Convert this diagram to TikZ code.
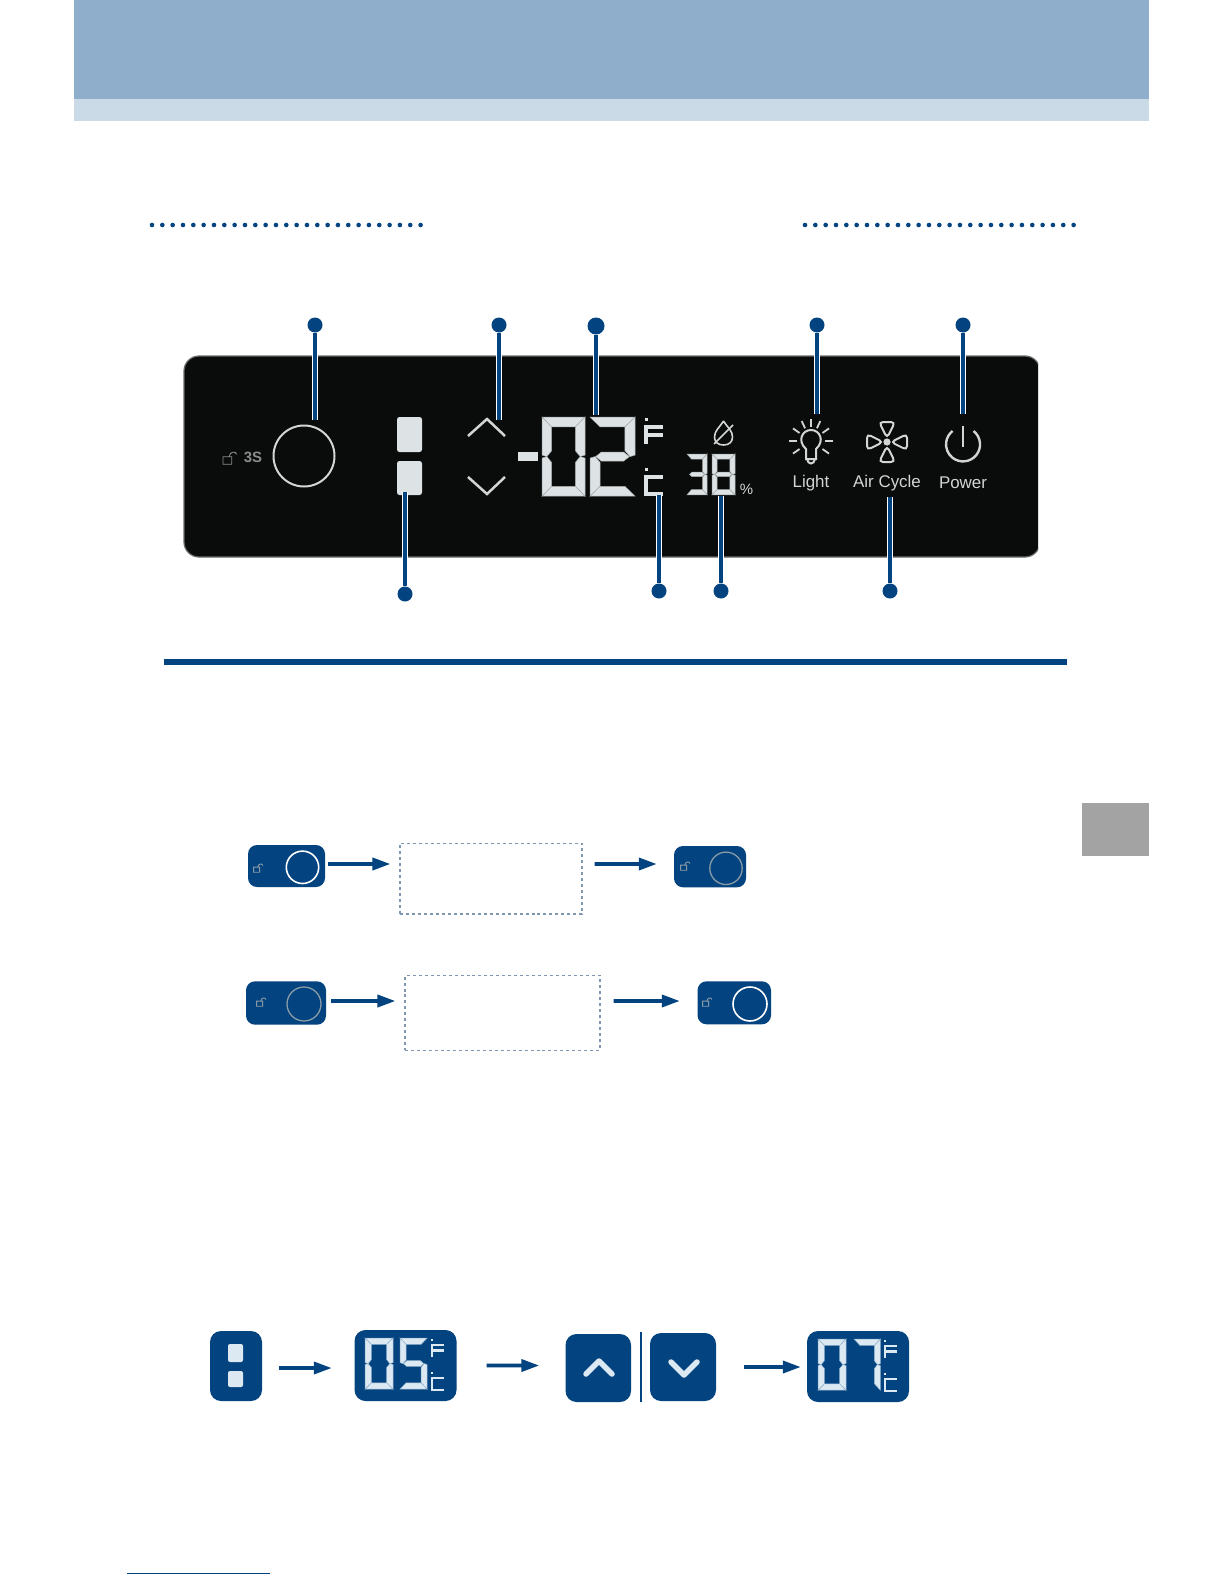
\documentclass[tikz,border=0pt]{standalone}
\usepackage{fontspec}
\setmainfont{Liberation Sans}
\usetikzlibrary{arrows.meta,positioning,calc}
\definecolor{PanelBlue}{HTML}{03437F}
\definecolor{HeaderBlue}{HTML}{8FAECB}
\definecolor{HeaderLight}{HTML}{CBDAE7}
\definecolor{TabGrey}{HTML}{A3A3A3}
\definecolor{PanelBlack}{HTML}{0A0C0B}
\definecolor{PanelEdge}{HTML}{6A6C6B}
\definecolor{SegLight}{HTML}{DDE3E4}
\definecolor{SegEdge}{HTML}{A4A9A9}
\definecolor{SegBlue}{HTML}{DCE9F2}
\definecolor{SegBlueEdge}{HTML}{8FB0CC}
\definecolor{IconGrey}{HTML}{D2D5D4}
\definecolor{LabelGrey}{HTML}{8C8C8C}
\definecolor{DimGrey}{HTML}{8A9BA8}
\definecolor{BoxDash}{HTML}{7F97B0}
\tikzset{
  calloutdot/.style={circle,fill=PanelBlue,inner sep=0pt,minimum size=15bp},
  calloutline/.style={preaction={draw=white,line width=5.6bp},draw=PanelBlue,line width=3.2bp},
  lockbtn/.style={rounded corners=9bp,fill=PanelBlue,inner sep=0pt},
  dispbtn/.style={rounded corners=11bp,fill=PanelBlue,inner sep=0pt},
  dashbox/.style={draw=BoxDash,dashed,line width=1.1bp,inner sep=0pt},
  flowarrow/.style={-{Triangle[length=18bp,width=12bp]},PanelBlue,line width=3.6bp},
  dotrule/.style={PanelBlue,line width=4.6bp,line cap=round,dash pattern=on 0pt off 10.33bp},
  paneltext/.style={text=IconGrey,font=\fontsize{17}{20}\selectfont,inner sep=0pt},
  lockicon/.pic={\draw[line width=.9bp] (-4,-1) rectangle (3,5) (1,-1) .. controls (1,-5) and (6,-6) .. (7,-3);}
}
\def\sega{\filldraw (0,0)--(40,0)--(31,10)--(9,10)--cycle;}
\def\segb{\filldraw (40,0)--(40,38.5)--(35.5,40)--(31,34)--(31,10)--cycle;}
\def\segc{\filldraw (40,80)--(40,41.5)--(35.5,40)--(31,46)--(31,70)--cycle;}
\def\segd{\filldraw (0,80)--(40,80)--(31,70)--(9,70)--cycle;}
\def\sege{\filldraw (0,80)--(0,41.5)--(4.5,40)--(9,46)--(9,70)--cycle;}
\def\segf{\filldraw (0,0)--(0,38.5)--(4.5,40)--(9,34)--(9,10)--cycle;}
\def\segg{\filldraw (5,40)--(10,35.5)--(30,35.5)--(35,40)--(30,44.5)--(10,44.5)--cycle;}
\newcommand\segdigit[7]{\begin{scope}[shift={(#1,#2)},xscale=#3,yscale=#4,fill=#6,draw=#7,line width=.5bp]
  \foreach \s in {#5}{\csname seg\s\endcsname}
\end{scope}}
\newcommand\unitF[5]{\begin{scope}[shift={(#1,#2)},scale=#3,line width=#4,color=#5]
  \draw (17,0)--(0,0)--(0,17) (0,8)--(17,8);
  \fill (-1.5,-9) rectangle (1.5,-6);
\end{scope}}
\newcommand\unitC[5]{\begin{scope}[shift={(#1,#2)},scale=#3,line width=#4,color=#5]
  \draw (17,0)--(0,0)--(0,17)--(17,17);
  \fill (-1.5,-9) rectangle (1.5,-6);
\end{scope}}
\begin{document}
\begin{tikzpicture}[x=1bp,y=-1bp]
  \useasboundingbox (0,0) rectangle (1224,1584);
  \fill[white] (0,0) rectangle (1224,1584);
  \fill[HeaderBlue] (74,0) rectangle (1149,99);
  \fill[HeaderLight] (74,99) rectangle (1149,121);
  \fill[TabGrey] (1082,803) rectangle (1149,856);
  \draw[dotrule] (152,225)--(421,225);
  \draw[dotrule] (805,225)--(1074,225);
  \fill[PanelBlue] (164,659) rectangle (1067,665);
  \draw[PanelBlue,line width=1bp] (127,1573)--(270,1573);

  % control panel
  \begin{scope}
    \clip (170,340) rectangle (1038,570);
    \draw[fill=PanelBlack,draw=PanelEdge,line width=1.2bp,rounded corners=15bp] (184,356) rectangle (1040,557);
  \end{scope}
  \pic[color=LabelGrey,scale=1.25] at (228,458) {lockicon};
  \node[text=LabelGrey,font=\fontsize{15}{18}\bfseries\selectfont,inner sep=0pt] (threes) at (253,457) {3S};
  \draw[IconGrey,line width=2bp] (304,456) circle (30.5);
  \fill[SegLight,rounded corners=2.5bp] (397,417) rectangle (422,452);
  \fill[SegLight,rounded corners=2.5bp] (397,461) rectangle (422,495);
  \draw[IconGrey,line width=2.5bp] (468,436)--(487,419)--(505,436);
  \draw[IconGrey,line width=2.5bp] (468,477)--(487,494)--(505,477);
  \fill[SegLight] (518,452) rectangle (538,461);
  \segdigit{542}{417}{1.075}{.99}{a,b,c,d,e,f}{SegLight}{SegEdge}
  \segdigit{590}{417}{1.125}{.99}{a,b,g,e,d}{SegLight}{SegEdge}
  \unitF{646}{427}{1}{3.3bp}{SegLight}
  \unitC{646}{477}{1}{3.3bp}{SegLight}
  \draw[IconGrey,line width=1.6bp] (723.5,421) .. controls (719,428) and (714.5,431) .. (714.5,437) .. controls (714.5,442) and (718,445) .. (723.5,445) .. controls (729,445) and (732.5,442) .. (732.5,437) .. controls (732.5,431) and (728,428) .. (723.5,421);
  \draw[IconGrey,line width=1.6bp] (714,444)--(733,425);
  \segdigit{687}{454}{.5}{.51}{a,b,g,c,d}{SegLight}{SegEdge}
  \segdigit{712}{454}{.575}{.51}{a,b,c,d,e,f,g}{SegLight}{SegEdge}
  \node[text=IconGrey,font=\fontsize{15}{17}\selectfont,inner sep=0pt] (percent) at (746.5,489) {\%};

  \draw[IconGrey,line width=2bp] (806,449) .. controls (797,441) and (802,430) .. (811,430) .. controls (820,430) and (825,441) .. (816,449) -- (816,459) -- (806,459) -- cycle;
  \draw[IconGrey,line width=2bp] (807,459) .. controls (808,465) and (814,465) .. (815,459);
  \foreach \ang in {0,-35,-65,-90,-115,-145,180,145,35}
    \draw[IconGrey,line width=1.8bp] ($(811,441)+(\ang:14)$)--($(811,441)+(\ang:22)$);
  \foreach \ang in {0,90,180,270}
    \draw[IconGrey,line width=2bp,rounded corners=4bp,shift={(887,442)},rotate=\ang] (0,-4)--(-8,-20)--(8,-20)--cycle;
  \fill[IconGrey] (887,442) circle (3.6);
  \draw[IconGrey,line width=2.4bp] (973.5,431) arc[start angle=-52,end angle=232,radius=17];
  \draw[IconGrey,line width=2.4bp] (963,426)--(963,447);
  \node[paneltext] (lightlabel) at (811,483) {Light};
  \node[paneltext] (fanlabel) at (887,483) {Air Cycle};
  \node[paneltext] (powerlabel) at (963,483) {Power};

  % callouts
  \node[calloutdot] (dotlock) at (315,325) {};
  \node[calloutdot] (dotarrows) at (499,325) {};
  \node[calloutdot,minimum size=17bp] (dottemp) at (596,326) {};
  \node[calloutdot] (dotlight) at (817,325) {};
  \node[calloutdot] (dotpower) at (963,325) {};
  \node[calloutdot] (dotzone) at (405,594) {};
  \node[calloutdot] (dotunit) at (659,591) {};
  \node[calloutdot] (dothumid) at (721,591) {};
  \node[calloutdot] (dotfan) at (890,591) {};
  \coordinate (tiplock) at (315,420);
  \coordinate (tiparrows) at (499,420);
  \coordinate (tiptemp) at (596,415);
  \coordinate (tiplight) at (817,414);
  \coordinate (tippower) at (963,414);
  \coordinate (tipzone) at (405,492);
  \coordinate (tipunit) at (659,495);
  \coordinate (tiphumid) at (721,496);
  \coordinate (tipfan) at (890,497);
  \foreach \nm in {lock,arrows,temp,light,power,zone,unit,humid,fan}
    \draw[calloutline] (dot\nm)--(tip\nm);

  % unlock rows
  \node[lockbtn,minimum width=77bp,minimum height=42bp] (lockon) at (286.5,866) {};
  \node[dashbox,minimum width=182bp,minimum height=70.7bp] (boxa) at (491,878.65) {};
  \node[lockbtn,minimum width=72bp,minimum height=41.3bp] (lockoff) at (710,866.65) {};
  \node[lockbtn,minimum width=80bp,minimum height=43.4bp] (lockdim) at (286,1003) {};
  \node[dashbox,minimum width=195bp,minimum height=75bp] (boxb) at (502.5,1012.8) {};
  \node[lockbtn,minimum width=73.5bp,minimum height=43bp] (lockbright) at (734.25,1002.8) {};
  \draw[white,line width=1.6bp] (302.5,867.3) circle (16.2);
  \draw[DimGrey,line width=1.3bp] (726,868.3) circle (16.2);
  \draw[DimGrey,line width=1.3bp] (304,1004) circle (17);
  \draw[white,line width=1.6bp] (750,1004) circle (17);
  \pic[color=DimGrey,scale=.85] at (257,868) {lockicon};
  \pic[color=DimGrey,scale=.85] at (684,866) {lockicon};
  \pic[color=DimGrey,scale=.85] at (260,1002) {lockicon};
  \pic[color=DimGrey,scale=.85] at (706,1002) {lockicon};
  \draw[flowarrow,shorten <=3bp,shorten >=9bp] ([yshift=2bp]lockon.east)--([yshift=14.65bp]boxa.west);
  \draw[flowarrow,shorten <=12bp,shorten >=17bp] ([yshift=14.65bp]boxa.east)--([yshift=2.65bp]lockoff.west);
  \draw[flowarrow,shorten <=5bp,shorten >=9bp] ([yshift=2bp]lockdim.east)--([yshift=11.8bp]boxb.west);
  \draw[flowarrow,shorten <=13bp,shorten >=17.5bp] ([yshift=11.8bp]boxb.east)--([yshift=1.8bp]lockbright.west);

  % temperature row
  \node[dispbtn,minimum width=52bp,minimum height=70bp] (zonebtn) at (236,1366) {};
  \node[dispbtn,minimum width=102bp,minimum height=71bp] (dispa) at (405.5,1365.5) {};
  \node[dispbtn,minimum width=65.5bp,minimum height=68bp] (upbtn) at (598.25,1368) {};
  \node[dispbtn,minimum width=66bp,minimum height=68bp] (downbtn) at (683,1367) {};
  \node[dispbtn,minimum width=102bp,minimum height=71bp] (dispb) at (858,1366.5) {};
  \draw[PanelBlue,line width=1.2bp] (641,1332)--(641,1402);
  \fill[SegBlue,rounded corners=2bp] (228,1344) rectangle (243,1362);
  \fill[SegBlue,rounded corners=2bp] (228,1371) rectangle (243,1387);
  \segdigit{365}{1338}{.7}{.64}{a,b,c,d,e,f}{SegBlue}{SegBlueEdge}
  \segdigit{400}{1338}{.68}{.64}{a,f,g,c,d}{SegBlue}{SegBlueEdge}
  \unitF{432}{1345}{.7}{2.4bp}{SegBlue}
  \unitC{432}{1378}{.7}{2.4bp}{SegBlue}
  \segdigit{818}{1339}{.7}{.64}{a,b,c,d,e,f}{SegBlue}{SegBlueEdge}
  \segdigit{854}{1339}{.66}{.64}{a,b,c}{SegBlue}{SegBlueEdge}
  \unitF{885}{1346}{.7}{2.4bp}{SegBlue}
  \unitC{885}{1379}{.7}{2.4bp}{SegBlue}
  \draw[SegBlue,line width=5.5bp,line cap=round,line join=round] (586,1374)--(599,1361)--(612,1374);
  \draw[SegBlue,line width=5.5bp,line cap=round,line join=round] (671,1362)--(684,1375)--(697,1362);
  \draw[flowarrow,shorten <=17bp,shorten >=22.5bp] ([yshift=-2bp]zonebtn.east)--([yshift=-2.5bp]dispa.west);
  \draw[flowarrow,shorten <=30bp,shorten >=26bp] (dispa.east)--([yshift=2.5bp]upbtn.west);
  \draw[flowarrow,shorten <=28bp,shorten >=6bp] (downbtn.east)--([yshift=-.5bp]dispb.west);
\end{tikzpicture}
\end{document}
